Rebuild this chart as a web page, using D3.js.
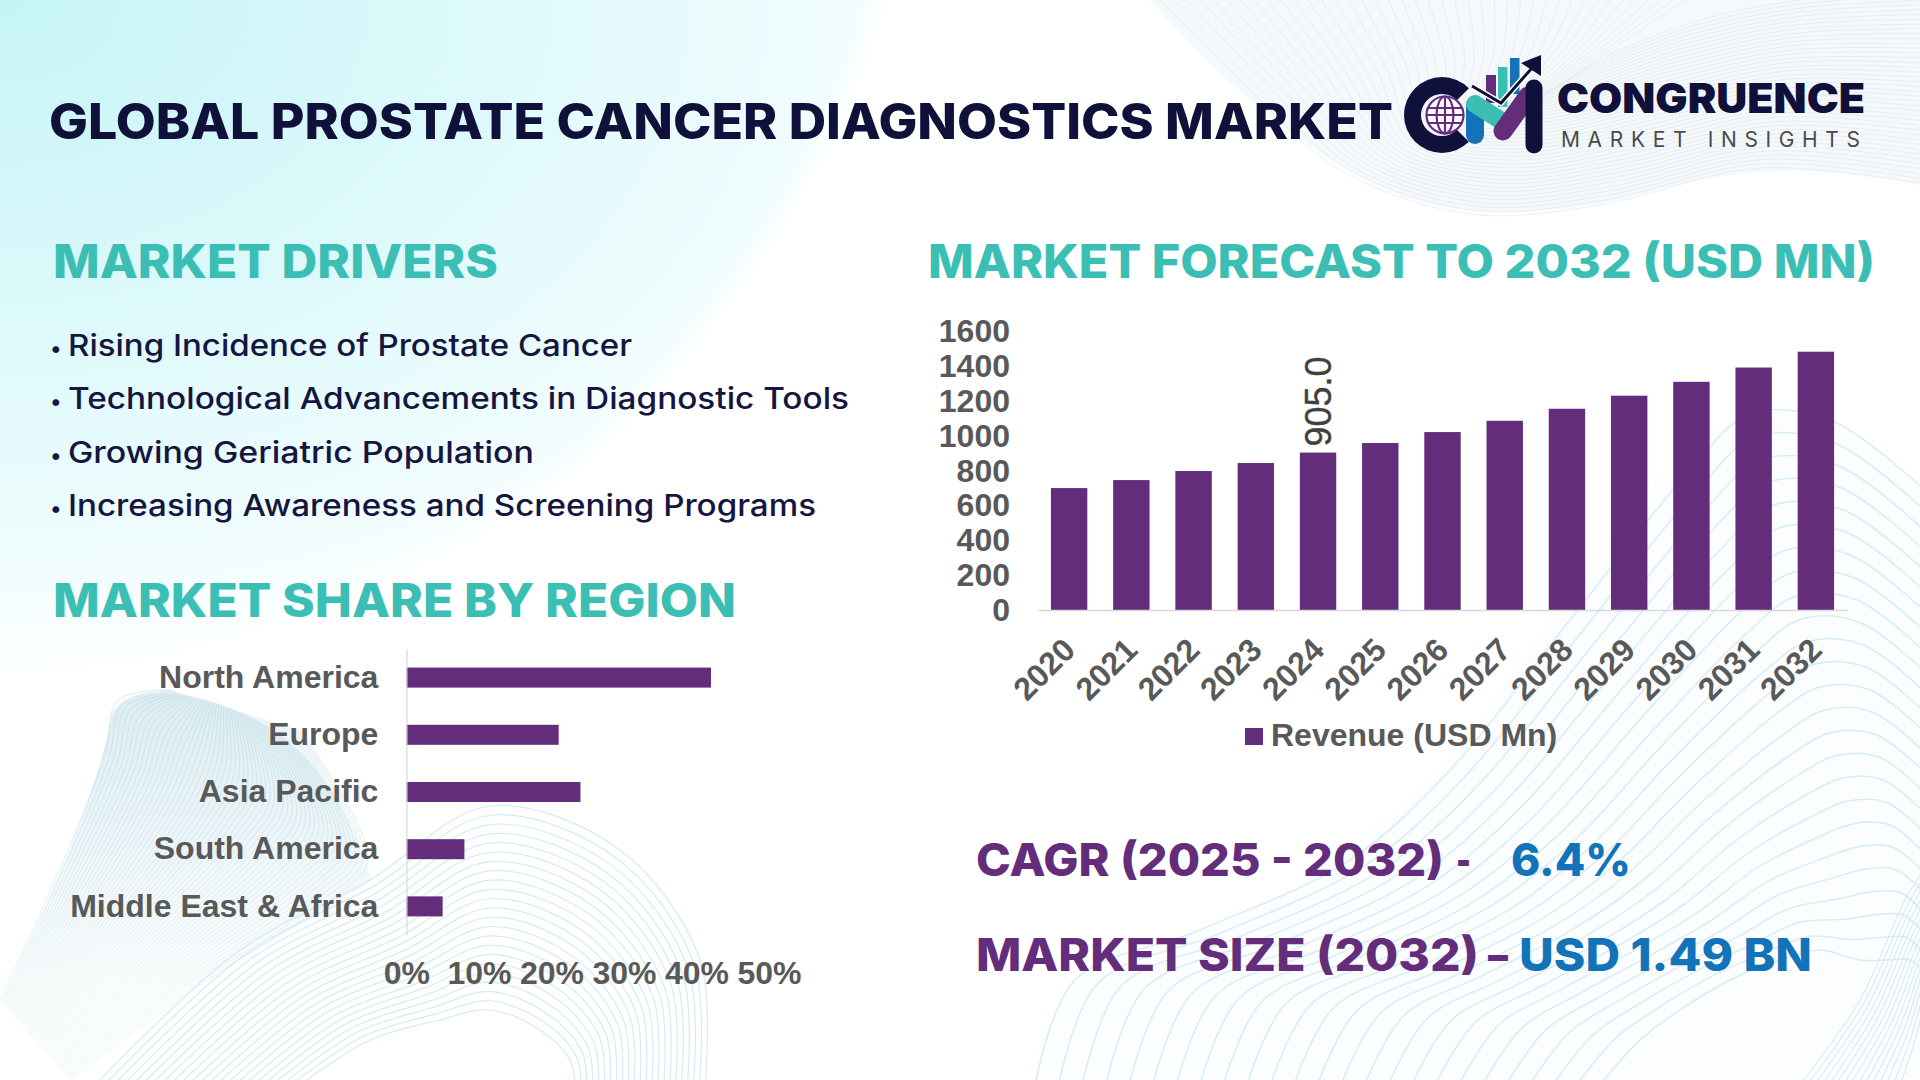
<!DOCTYPE html>
<html>
<head>
<meta charset="utf-8">
<script src="https://cdn.jsdelivr.net/npm/d3@7"></script>
<style>
  html, body { margin: 0; padding: 0; background: #fff; }
  svg { display: block; }
  .head { font-family: Inter, sans-serif; font-weight: 800; }
  .chart text { font-family: "Liberation Sans", Arial, sans-serif; font-weight: 700; fill: #595959; }
</style>
</head>
<body>
<div id="chart"></div>
<script>
const years = ["2020","2021","2022","2023","2024","2025","2026","2027","2028","2029","2030","2031","2032"];
const revenue = [701,747,799,845,905,960,1023,1088,1157,1232,1312,1394,1485];
const revenueTicks = [0,200,400,600,800,1000,1200,1400,1600];
const regions = ["North America","Europe","Asia Pacific","South America","Middle East & Africa"];
const regionShare = [42,21,24,8,5];
const shareTicks = [0,10,20,30,40,50];
const drivers = [
  "Rising Incidence of Prostate Cancer",
  "Technological Advancements in Diagnostic Tools",
  "Growing Geriatric Population",
  "Increasing Awareness and Screening Programs"
];
const driverEnds = [632, 849, 534, 816];

const PURPLE = "#642d7c", TEAL = "#3bbfb5", NAVY = "#10113a", BLUE = "#1273b8";

const svg = d3.select("#chart").append("svg").attr("width", 1920).attr("height", 1080);

// ---- background decoration
const defs = svg.append("defs");
const glow = defs.append("radialGradient").attr("id", "glow")
  .attr("gradientUnits", "userSpaceOnUse").attr("cx", 0).attr("cy", 0).attr("r", 1000)
  .attr("gradientTransform", "scale(1,0.68)");
glow.append("stop").attr("offset", "0").attr("stop-color", "#c6f4f6");
glow.append("stop").attr("offset", "0.5").attr("stop-color", "#def9fb");
glow.append("stop").attr("offset", "0.8").attr("stop-color", "#eefcfd");
glow.append("stop").attr("offset", "1").attr("stop-color", "#ffffff");
const soft = defs.append("filter").attr("id", "soft")
  .attr("x", "-10%").attr("y", "-10%").attr("width", "120%").attr("height", "120%");
soft.append("feGaussianBlur").attr("stdDeviation", 9);
function fadeDown(id, color, top, bottom, y2) {
  const g = defs.append("linearGradient").attr("id", id)
    .attr("gradientUnits", "userSpaceOnUse").attr("x1", 0).attr("y1", 700).attr("x2", 0).attr("y2", y2);
  g.append("stop").attr("offset", "0").attr("stop-color", color).attr("stop-opacity", top);
  g.append("stop").attr("offset", "1").attr("stop-color", color).attr("stop-opacity", bottom);
}
fadeDown("fade", "#cde5ec", 0.7, 0, 990);
fadeDown("fadeLine", "#b8d9e3", 0.6, 0.22, 1080);

svg.append("rect").attr("width", 1920).attr("height", 1080).attr("fill", "#fff");
svg.append("path").attr("fill", "url(#glow)").attr("filter", "url(#soft)")
  .attr("d", "M-40,-40 L885,-40 C850,120 760,260 620,420 C480,560 200,660 -40,700 Z");

const curve = d3.line().curve(d3.curveCatmullRom);
function mesh(g, edgeA, edgeB, n, color, opacity, width) {
  d3.range(n + 1).forEach(i => {
    const t = i / n;
    g.append("path").attr("fill", "none").attr("stroke", color)
      .attr("stroke-width", width || 1).attr("stroke-opacity", opacity)
      .attr("d", curve(edgeA.map((p, k) => [p[0] + (edgeB[k][0] - p[0]) * t, p[1] + (edgeB[k][1] - p[1]) * t])));
  });
}
const deco = svg.append("g");

// top right ribbon
deco.append("path").attr("fill", "#f2f6fa").attr("fill-opacity", 0.7)
  .attr("d", "M1150,0 C1230,90 1300,150 1400,195 C1470,220 1560,215 1640,195 C1720,172 1790,160 1920,185 L1920,0 Z");
mesh(deco, [[1150,-10],[1250,90],[1340,170],[1470,214],[1600,205],[1760,168],[1930,185]],
           [[1700,-10],[1640,30],[1560,85],[1600,60],[1700,20],[1800,0],[1930,-10]], 40, "#dde8f1", 0.7);

// left ribbon
deco.append("path").attr("fill", "url(#fade)")
  .attr("d", "M112,715 C130,680 205,690 265,725 C320,760 350,810 372,880 C300,930 150,1010 70,1080 L0,1080 L0,1000 C50,900 95,800 112,715 Z");
mesh(deco, [[0,1000],[55,880],[105,755],[118,700],[170,690]],
           [[70,1080],[200,985],[330,900],[368,860],[300,730]], 56, "url(#fadeLine)", 1);
// left dome
mesh(deco, [[95,1085],[240,950],[370,880],[490,806],[620,850],[700,960],[705,1085]],
           [[300,1085],[370,1040],[440,1020],[490,1010],[540,1030],[570,1060],[575,1085]], 22, "#cfe7ee", 0.85, 1.2);

// bottom right sweep
deco.append("path").attr("fill", "#eef8fb").attr("fill-opacity", 0.25)
  .attr("d", "M1035,1080 C1035,1010 1085,970 1200,930 C1320,890 1380,820 1420,790 C1500,730 1620,460 1750,415 C1820,400 1880,450 1920,490 L1920,1080 Z");
mesh(deco, [[1035,1085],[1075,980],[1200,930],[1350,860],[1450,770],[1570,620],[1690,470],[1750,414],[1830,420],[1930,495]],
           [[1600,1085],[1640,1040],[1680,1010],[1730,980],[1780,960],[1820,950],[1860,960],[1890,960],[1910,960],[1930,980]], 24, "#cfeaf2", 0.9, 1.4);
// bottom right corner ribbon
mesh(deco, [[1800,1085],[1860,1000],[1905,900],[1930,860]], [[1900,1085],[1915,1040],[1925,1000],[1935,960]], 14, "#c4e4ed", 0.85);

// ---- headings
function label(str, x, y, end, size, weight, color) {
  return svg.append("text").attr("class", "head").attr("x", x).attr("y", y)
    .attr("textLength", end - x).attr("lengthAdjust", "spacingAndGlyphs")
    .style("font-size", size + "px").style("font-weight", weight).attr("fill", color).text(str);
}
label("GLOBAL PROSTATE CANCER DIAGNOSTICS MARKET", 49, 139, 1393, 49, 800, NAVY);
label("MARKET DRIVERS", 53, 278, 498, 46, 800, TEAL);
label("MARKET FORECAST TO 2032 (USD MN)", 928, 278, 1875, 46, 800, TEAL);
label("MARKET SHARE BY REGION", 53, 617, 736, 46, 800, TEAL);

const driverY = d3.scalePoint().domain(drivers).range([356, 516]);
drivers.forEach((d, i) => {
  svg.append("text").attr("class", "head").attr("x", 51).attr("y", driverY(d))
    .style("font-weight", 800).attr("fill", "#15153f").text("\u2022").style("font-size", "22px");
  label(d, 68, driverY(d), driverEnds[i], 30, 500, "#15153f");
});

label("CAGR (2025 - 2032)", 976, 876, 1444, 45, 800, PURPLE);
label("-", 1456, 876, 1471, 45, 800, PURPLE);
label("6.4%", 1511, 876, 1631, 45, 800, BLUE);
label("MARKET SIZE (2032)", 976, 971, 1479, 45, 800, PURPLE);
label("\u2013", 1488, 971, 1508, 45, 800, PURPLE);
label("USD 1.49 BN", 1519, 971, 1812, 45, 800, BLUE);

// ---- forecast chart
const forecast = svg.append("g").attr("class", "chart");
const x = d3.scaleBand().domain(years).range([1038, 1847]).paddingInner(0.415).paddingOuter(0.2075);
const y = d3.scaleLinear().domain([0, 1600]).range([610, 331.7]);

forecast.selectAll(".bar").data(years).enter().append("rect")
  .attr("class", "bar")
  .attr("x", d => x(d))
  .attr("width", x.bandwidth())
  .attr("y", (d, i) => y(revenue[i]))
  .attr("height", (d, i) => 610 - y(revenue[i]))
  .attr("fill", PURPLE);

const yAxis = forecast.append("g").attr("transform", "translate(1038,0)")
  .call(d3.axisLeft(y).tickValues(revenueTicks).tickFormat(d3.format("d")).tickSize(0).tickPadding(28));
yAxis.select(".domain").remove();
yAxis.selectAll("text").style("font-size", "32px");

const xAxis = forecast.append("g").attr("transform", "translate(0,610)")
  .call(d3.axisBottom(x).tickSize(0).tickPadding(0));
xAxis.select(".domain").attr("stroke", "#d9d9d9").attr("stroke-width", 1.5);
xAxis.selectAll("text")
  .style("font-size", "32px")
  .attr("text-anchor", "end")
  .attr("dy", "0.35em")
  .attr("transform", "translate(0,34) rotate(-45)");

// data label on 2024
const labelled = years.indexOf("2024");
forecast.append("text")
  .attr("transform", `translate(${x("2024") + x.bandwidth() / 2 + 13},${y(revenue[labelled]) - 6}) rotate(-90)`)
  .style("font-size", "36px").style("font-weight", 400).style("fill", "#404040")
  .style("stroke", "#404040").style("stroke-width", 0.4)
  .text(revenue[labelled].toFixed(1));

// legend
forecast.append("rect").attr("x", 1245).attr("y", 728).attr("width", 18).attr("height", 17).attr("fill", PURPLE);
forecast.append("text").attr("x", 1271).attr("y", 746).style("font-size", "32px").text("Revenue (USD Mn)");

// ---- region share chart
const share = svg.append("g").attr("class", "chart");
const sx = d3.scaleLinear().domain([0, 50]).range([406.4, 769]);
const sy = d3.scaleBand().domain(regions).range([649, 935]).paddingInner(0.65).paddingOuter(0.325);

share.selectAll(".bar").data(regions).enter().append("rect")
  .attr("class", "bar")
  .attr("x", sx(0))
  .attr("y", d => sy(d))
  .attr("width", (d, i) => sx(regionShare[i]) - sx(0))
  .attr("height", sy.bandwidth())
  .attr("fill", PURPLE);

const syAxis = share.append("g").attr("transform", `translate(${sx(0)},0)`)
  .call(d3.axisLeft(sy).tickSize(0).tickPadding(28));
syAxis.select(".domain").attr("stroke", "#d9d9d9").attr("stroke-width", 1.2);
syAxis.selectAll("text").style("font-size", "32px");

const sxAxis = share.append("g").attr("transform", "translate(0,935)")
  .call(d3.axisBottom(sx).tickValues(shareTicks).tickFormat(d => d + "%").tickSize(0).tickPadding(26));
sxAxis.select(".domain").remove();
sxAxis.selectAll("text").style("font-size", "32px");

// ---- logo
const logo = svg.append("g");
logo.append("path").attr("transform", "translate(1442,115)").attr("fill", NAVY)
  .attr("d", d3.arc().innerRadius(21).outerRadius(38).startAngle(Math.PI * 0.75).endAngle(Math.PI * 2.25)());
const globe = logo.append("g").attr("transform", "translate(1445,115)").attr("fill", "none")
  .attr("stroke", PURPLE).attr("stroke-width", 2.2);
globe.append("circle").attr("r", 18.5).attr("fill", "#fff");
globe.append("ellipse").attr("rx", 8.5).attr("ry", 18.5);
globe.append("path").attr("d", "M0,-18.5V18.5M-17,-7H17M-18.5,0H18.5M-17,8H17");

[[1486, 75, 10, 28, PURPLE], [1498, 67, 9.5, 40, TEAL], [1510, 58, 9.5, 36, BLUE]].forEach(b => {
  logo.append("rect").attr("x", b[0]).attr("y", b[1]).attr("width", b[2]).attr("height", b[3]).attr("fill", b[4]);
});
function stroke(pts, w, color, cap) {
  logo.append("path").attr("fill", "none").attr("stroke", color).attr("stroke-width", w)
    .attr("stroke-linecap", cap || "round").attr("stroke-linejoin", "miter")
    .attr("d", d3.line()(pts));
}
stroke([[1475,106],[1475,135]], 18, BLUE);
stroke([[1475,104],[1500,120]], 18, TEAL);
stroke([[1503,131],[1528,96]], 19, PURPLE);
stroke([[1534,88],[1534,145]], 17, NAVY);
stroke([[1472,86],[1501,103],[1532,68]], 6, "#fff", "butt");
stroke([[1472,86],[1501,103],[1532,68]], 3, NAVY, "butt");
logo.append("path").attr("fill", NAVY).attr("d", "M1541,55L1521,63L1541,76Z");

svg.append("text").attr("class", "head").attr("x", 1557).attr("y", 113)
  .attr("textLength", 308).attr("lengthAdjust", "spacingAndGlyphs")
  .style("font-size", "41px").style("font-weight", 900).attr("fill", NAVY).text("CONGRUENCE");
svg.append("text").attr("class", "head").attr("x", 1561).attr("y", 147)
  .attr("textLength", 299).attr("lengthAdjust", "spacing")
  .style("font-size", "21px").style("font-weight", 400).attr("fill", "#4a4a4a").text("MARKET INSIGHTS");
</script>
</body>
</html>
